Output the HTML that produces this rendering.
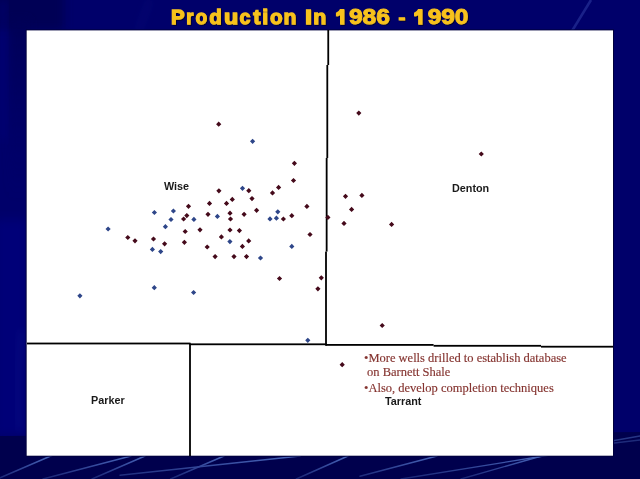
<!DOCTYPE html>
<html><head><meta charset="utf-8">
<style>
html,body{margin:0;padding:0;}
body{width:640px;height:479px;overflow:hidden;position:relative;background:#00005e;font-family:"Liberation Sans",sans-serif;}
svg{position:absolute;left:0;top:0;}
.t{position:absolute;white-space:nowrap;will-change:transform;}
.lbl{font:bold 10.8px/1 "Liberation Sans",sans-serif;color:#1a1a1a;}
.note{font:12.5px/1 "Liberation Serif",serif;color:#84332f;-webkit-text-stroke:0.15px #84332f;}
</style></head><body>
<svg width="640" height="479" viewBox="0 0 640 479">
<defs>
<filter id="tsh" x="-10%" y="-50%" width="120%" height="200%"><feDropShadow dx="1" dy="1" stdDeviation="0.6" flood-color="#000020" flood-opacity="0.8"/></filter>
<filter id="b4" x="-50%" y="-50%" width="200%" height="200%"><feGaussianBlur stdDeviation="4"/></filter>
<filter id="b1" x="-50%" y="-50%" width="200%" height="200%"><feGaussianBlur stdDeviation="0.6"/></filter>
<linearGradient id="lg" x1="0" y1="0" x2="0" y2="1">
<stop offset="0" stop-color="#000056"/><stop offset="1" stop-color="#000066" stop-opacity="0"/>
</linearGradient>
<linearGradient id="smg" x1="0" y1="430" x2="0" y2="479" gradientUnits="userSpaceOnUse">
<stop offset="0" stop-color="#fff"/><stop offset="0.5" stop-color="#fff"/><stop offset="1" stop-color="#555"/>
</linearGradient>
<mask id="sm" maskUnits="userSpaceOnUse" x="0" y="0" width="640" height="479"><rect width="640" height="479" fill="url(#smg)"/></mask>
</defs>
<rect width="640" height="479" fill="#00006a"/>
<rect x="-10" y="-10" width="74" height="40" fill="#000054" filter="url(#b4)"/>
<rect x="9" y="20" width="20" height="180" fill="url(#lg)" filter="url(#b4)"/>
<rect x="0" y="0" width="6" height="140" fill="#00007a" filter="url(#b4)" opacity="0.7"/>
<rect x="-5" y="220" width="32" height="215" fill="#060678" filter="url(#b4)"/>
<path d="M22 330 Q14 390 20 430" stroke="#2030a0" stroke-width="3" fill="none" opacity="0.35" filter="url(#b4)"/>
<path d="M-10 436 L640 432 L650 490 L-10 490Z" fill="#00004e" filter="url(#b1)"/>
<g stroke="#5577cc" stroke-width="1.4" fill="none" stroke-linecap="round" filter="url(#b1)" opacity="0.9" mask="url(#sm)">
<path d="M-5 480 L60 452"/>
<path d="M43 479 L131 456"/>
<path d="M92 479 L145 456"/>
<path d="M120 475.3 L300 456"/>
<path d="M170.6 479 L224 456"/>
<path d="M296.3 479 L348 456"/>
<path d="M360 476.3 L437 456"/>
<path d="M401 479 L550 455"/>
<path d="M461 479 L545 455"/>
<path d="M560 450 L640 436" opacity="0.5"/>
<path d="M580 447 L640 440" opacity="0.4"/>
</g>
<path d="M591 0 L572 31" stroke="#3a4cb0" stroke-width="2.5" opacity="0.45" filter="url(#b1)"/>
<path d="M150 0 L138 32" stroke="#1a20a0" stroke-width="3" opacity="0.3" filter="url(#b4)"/>
<rect x="25.7" y="29.4" width="588.3" height="427.3" fill="#00003e" filter="url(#b1)"/>
<rect x="26.67" y="30.4" width="586.33" height="425.3" fill="#ffffff"/>
<g fill="#000">
<rect x="327.35" y="30" width="1.8" height="35.0"/>
<rect x="326.40" y="65" width="1.8" height="93.0"/>
<rect x="325.75" y="158" width="1.8" height="93.6"/>
<rect x="325.10" y="251.6" width="1.8" height="94.0"/>
<rect x="189.10" y="343.5" width="1.8" height="112.5"/>
<rect x="27" y="342.60" width="163.5" height="1.8"/>
<rect x="189.5" y="343.40" width="137.0" height="1.8"/>
<rect x="325.5" y="344.00" width="108.1" height="1.8"/>
<rect x="433.6" y="344.90" width="107.4" height="1.8"/>
<rect x="541" y="345.80" width="72.0" height="1.8"/>
</g>
<g filter="url(#tsh)">
<g font-family="Liberation Sans" font-weight="bold" font-size="20.8" fill="#f8c21e" stroke="#f8c21e" stroke-width="1.3">
<text x="171.05" y="23.95" textLength="13.54" lengthAdjust="spacingAndGlyphs">P</text>
<text x="186.21" y="23.95" textLength="7.14" lengthAdjust="spacingAndGlyphs">r</text>
<text x="195.46" y="23.95" textLength="11.67" lengthAdjust="spacingAndGlyphs">o</text>
<text x="209.16" y="23.95" textLength="12.46" lengthAdjust="spacingAndGlyphs">d</text>
<text x="223.95" y="23.95" textLength="14.14" lengthAdjust="spacingAndGlyphs">u</text>
<text x="239.58" y="23.95" textLength="10.80" lengthAdjust="spacingAndGlyphs">c</text>
<text x="253.25" y="23.95" textLength="7.18" lengthAdjust="spacingAndGlyphs">t</text>
<text x="262.28" y="23.95" textLength="5.79" lengthAdjust="spacingAndGlyphs">i</text>
<text x="269.96" y="23.95" textLength="12.47" lengthAdjust="spacingAndGlyphs">o</text>
<text x="283.41" y="23.95" textLength="12.85" lengthAdjust="spacingAndGlyphs">n</text>
<text x="304.94" y="23.95" textLength="6.95" lengthAdjust="spacingAndGlyphs">I</text>
<text x="313.21" y="23.95" textLength="12.96" lengthAdjust="spacingAndGlyphs">n</text>
</g>
<g font-family="Liberation Sans" font-weight="bold" font-size="21.4" fill="#f8c21e" stroke="#f8c21e" stroke-width="0.9">
<text x="348.95" y="24.2" textLength="40.88" lengthAdjust="spacingAndGlyphs">986</text>
<text x="427.65" y="24.2" textLength="40.79" lengthAdjust="spacingAndGlyphs">990</text>
</g>
<rect x="398.6" y="17.2" width="6.5" height="3.3" fill="#f8c21e"/>
<path transform="translate(0.00 0)" d="M340.0 9.0 L344.4 9.0 L344.4 24.8 L340.0 24.8 L340.0 15.2 Q338.2 16.3 335.9 16.6 L335.9 12.8 Q338.9 11.6 340.0 9.0 Z" fill="#f8c21e"/>
<path transform="translate(78.10 0)" d="M340.0 9.0 L344.4 9.0 L344.4 24.8 L340.0 24.8 L340.0 15.2 Q338.2 16.3 335.9 16.6 L335.9 12.8 Q338.9 11.6 340.0 9.0 Z" fill="#f8c21e"/>
</g>
<path d="M218.7 121.6L221.3 124.2L218.7 126.8L216.1 124.2ZM358.8 110.5L361.4 113.1L358.8 115.7L356.2 113.1ZM481.3 151.4L483.9 154.0L481.3 156.6L478.7 154.0ZM294.4 160.7L297.0 163.3L294.4 165.9L291.8 163.3ZM293.5 177.9L296.1 180.5L293.5 183.1L290.9 180.5ZM278.6 184.8L281.2 187.4L278.6 190.0L276.0 187.4ZM272.5 190.3L275.1 192.9L272.5 195.5L269.9 192.9ZM248.8 188.1L251.4 190.7L248.8 193.3L246.2 190.7ZM218.9 188.2L221.5 190.8L218.9 193.4L216.3 190.8ZM232.3 196.8L234.9 199.4L232.3 202.0L229.7 199.4ZM252.0 196.0L254.6 198.6L252.0 201.2L249.4 198.6ZM209.5 200.8L212.1 203.4L209.5 206.0L206.9 203.4ZM226.5 200.8L229.1 203.4L226.5 206.0L223.9 203.4ZM188.5 203.7L191.1 206.3L188.5 208.9L185.9 206.3ZM256.6 207.7L259.2 210.3L256.6 212.9L254.0 210.3ZM208.0 211.7L210.6 214.3L208.0 216.9L205.4 214.3ZM230.0 210.6L232.6 213.2L230.0 215.8L227.4 213.2ZM244.1 211.7L246.7 214.3L244.1 216.9L241.5 214.3ZM186.8 213.0L189.4 215.6L186.8 218.2L184.2 215.6ZM183.6 216.4L186.2 219.0L183.6 221.6L181.0 219.0ZM230.5 216.4L233.1 219.0L230.5 221.6L227.9 219.0ZM185.2 228.9L187.8 231.5L185.2 234.1L182.6 231.5ZM200.0 227.2L202.6 229.8L200.0 232.4L197.4 229.8ZM230.0 227.4L232.6 230.0L230.0 232.6L227.4 230.0ZM239.4 228.0L242.0 230.6L239.4 233.2L236.8 230.6ZM221.4 234.3L224.0 236.9L221.4 239.5L218.8 236.9ZM184.4 239.7L187.0 242.3L184.4 244.9L181.8 242.3ZM248.7 238.3L251.3 240.9L248.7 243.5L246.1 240.9ZM207.2 244.4L209.8 247.0L207.2 249.6L204.6 247.0ZM242.4 243.8L245.0 246.4L242.4 249.0L239.8 246.4ZM215.1 254.0L217.7 256.6L215.1 259.2L212.5 256.6ZM234.0 254.0L236.6 256.6L234.0 259.2L231.4 256.6ZM246.5 254.0L249.1 256.6L246.5 259.2L243.9 256.6ZM127.8 234.9L130.4 237.5L127.8 240.1L125.2 237.5ZM135.0 238.2L137.6 240.8L135.0 243.4L132.4 240.8ZM153.5 236.4L156.1 239.0L153.5 241.6L150.9 239.0ZM164.6 241.2L167.2 243.8L164.6 246.4L162.0 243.8ZM306.9 203.8L309.5 206.4L306.9 209.0L304.3 206.4ZM291.8 213.1L294.4 215.7L291.8 218.3L289.2 215.7ZM283.4 216.4L286.0 219.0L283.4 221.6L280.8 219.0ZM327.9 214.8L330.5 217.4L327.9 220.0L325.3 217.4ZM310.0 231.9L312.6 234.5L310.0 237.1L307.4 234.5ZM279.5 275.9L282.1 278.5L279.5 281.1L276.9 278.5ZM321.3 275.2L323.9 277.8L321.3 280.4L318.7 277.8ZM317.9 286.2L320.5 288.8L317.9 291.4L315.3 288.8ZM345.5 193.7L348.1 196.3L345.5 198.9L342.9 196.3ZM361.9 192.8L364.5 195.4L361.9 198.0L359.3 195.4ZM351.6 206.8L354.2 209.4L351.6 212.0L349.0 209.4ZM344.0 220.8L346.6 223.4L344.0 226.0L341.4 223.4ZM391.6 221.8L394.2 224.4L391.6 227.0L389.0 224.4ZM382.2 322.9L384.8 325.5L382.2 328.1L379.6 325.5ZM342.2 362.1L344.8 364.7L342.2 367.3L339.6 364.7Z" fill="#450a1b"/>
<path d="M252.6 138.7L255.2 141.3L252.6 143.9L250.0 141.3ZM242.5 185.7L245.1 188.3L242.5 190.9L239.9 188.3ZM154.4 209.9L157.0 212.5L154.4 215.1L151.8 212.5ZM173.4 208.4L176.0 211.0L173.4 213.6L170.8 211.0ZM171.0 216.9L173.6 219.5L171.0 222.1L168.4 219.5ZM165.4 224.1L168.0 226.7L165.4 229.3L162.8 226.7ZM108.1 226.4L110.7 229.0L108.1 231.6L105.5 229.0ZM152.4 246.8L155.0 249.4L152.4 252.0L149.8 249.4ZM160.7 249.0L163.3 251.6L160.7 254.2L158.1 251.6ZM193.9 216.8L196.5 219.4L193.9 222.0L191.3 219.4ZM217.4 213.8L220.0 216.4L217.4 219.0L214.8 216.4ZM229.9 239.0L232.5 241.6L229.9 244.2L227.3 241.6ZM277.8 209.2L280.4 211.8L277.8 214.4L275.2 211.8ZM270.0 216.3L272.6 218.9L270.0 221.5L267.4 218.9ZM276.4 215.6L279.0 218.2L276.4 220.8L273.8 218.2ZM291.8 243.8L294.4 246.4L291.8 249.0L289.2 246.4ZM260.5 255.4L263.1 258.0L260.5 260.6L257.9 258.0ZM307.8 337.7L310.4 340.3L307.8 342.9L305.2 340.3ZM79.9 293.2L82.5 295.8L79.9 298.4L77.3 295.8ZM154.3 285.1L156.9 287.7L154.3 290.3L151.7 287.7ZM193.6 289.9L196.2 292.5L193.6 295.1L191.0 292.5Z" fill="#2e4689"/>
</svg>
<div class="t lbl" style="left:164px;top:181px">Wise</div>
<div class="t lbl" style="left:452px;top:183px">Denton</div>
<div class="t lbl" style="left:91px;top:395px">Parker</div>
<div class="t lbl" style="left:384.5px;top:396.3px">Tarrant</div>
<div class="t note" style="left:364px;top:352px">&bull;More wells drilled to establish database</div>
<div class="t note" style="left:367px;top:366px">on Barnett Shale</div>
<div class="t note" style="left:364px;top:381.5px">&bull;Also, develop completion techniques</div>
</body></html>
